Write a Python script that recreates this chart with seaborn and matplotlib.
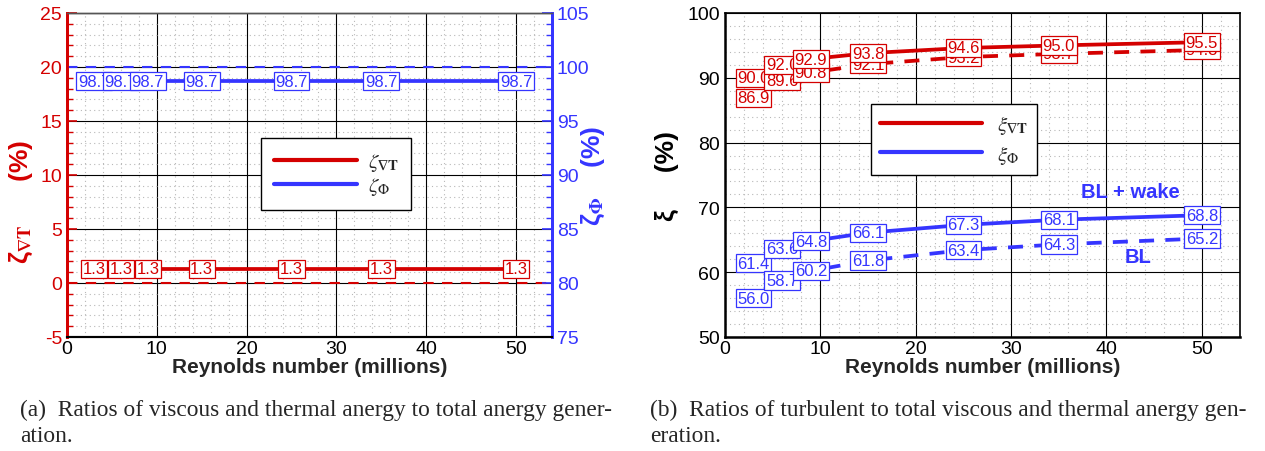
import numpy as np
import pandas as pd
import matplotlib
matplotlib.use("Agg")
import matplotlib.pyplot as plt
from matplotlib.ticker import MultipleLocator
import seaborn as sns

# ---------------- data ----------------
reynolds = [3, 6, 9, 15, 25, 35, 50]
zeta_gradT = [1.3, 1.3, 1.3, 1.3, 1.3, 1.3, 1.3]
zeta_phi = [98.7, 98.7, 98.7, 98.7, 98.7, 98.7, 98.7]
xi_gradT_wake = [90.0, 92.0, 92.9, 93.8, 94.6, 95.0, 95.5]
xi_gradT_bl = [86.9, 89.6, 90.8, 92.1, 93.2, 93.7, 94.3]
xi_phi_wake = [61.4, 63.6, 64.8, 66.1, 67.3, 68.1, 68.8]
xi_phi_bl = [56.0, 58.7, 60.2, 61.8, 63.4, 64.3, 65.2]
ref_left = 0.0
ref_right = 100.0

caption_a = ["(a)  Ratios of viscous and thermal anergy to total anergy gener-", "ation."]
caption_b = ["(b)  Ratios of turbulent to total viscous and thermal anergy gen-", "eration."]

RED = "#d40000"
BLUE = "#3535ff"

sns.set_style("white")
plt.rcParams["font.family"] = ["Liberation Sans", "DejaVu Sans"]
plt.rcParams["mathtext.fontset"] = "stix"
plt.rcParams["axes.unicode_minus"] = False

W, H = 1265, 452
fig = plt.figure(figsize=(W / 100, H / 100), dpi=100)


def fbox(x0, y0, x1, y1):
    return [x0 / W, 1 - y1 / H, (x1 - x0) / W, (y1 - y0) / H]


def style_grid(ax, xminor, yminor):
    ax.xaxis.set_minor_locator(MultipleLocator(xminor))
    ax.yaxis.set_minor_locator(MultipleLocator(yminor))
    ax.grid(which="major", color="black", lw=0.8)
    ax.grid(which="minor", color="#b8b8b8", ls=(0, (1, 3)), lw=0.8)
    ax.set_axisbelow(True)


def label_points(ax, xs, ys, color, zbase, fs=12):
    for i, (x, y) in enumerate(zip(xs, ys)):
        ax.text(x, y, f"{y:.1f}", color=color, fontsize=fs, ha="center", va="center",
                zorder=zbase + 2 * i,
                bbox=dict(boxstyle="square,pad=0.1", fc="white", ec=color, lw=0.9))


# ---------------- left panel ----------------
ax1 = fig.add_axes(fbox(67, 14, 552, 338))
ax1.set_xlim(0, 54)
ax1.set_ylim(-5, 25)
ax1.xaxis.set_major_locator(MultipleLocator(10))
ax1.yaxis.set_major_locator(MultipleLocator(5))
style_grid(ax1, 2, 1)
ax1.axhline(ref_left, color=RED, lw=1.5, ls=(0, (5, 4)), zorder=2)
sns.lineplot(x=reynolds, y=zeta_gradT, ax=ax1, color=RED, lw=2.7, zorder=3)
label_points(ax1, reynolds, zeta_gradT, RED, 10)

ax2 = ax1.twinx()
ax2.set_ylim(75, 105)
ax2.yaxis.set_major_locator(MultipleLocator(5))
ax2.yaxis.set_minor_locator(MultipleLocator(1))
ax2.axhline(ref_right, color=BLUE, lw=1.5, ls=(0, (5, 4)), zorder=2)
sns.lineplot(x=reynolds, y=zeta_phi, ax=ax2, color=BLUE, lw=2.7, zorder=3)
label_points(ax2, reynolds, zeta_phi, BLUE, 10)

ax1.tick_params(axis="y", which="both", direction="in", colors=RED, labelsize=14, right=False)
ax1.tick_params(axis="y", which="major", length=7, width=1.2)
ax1.tick_params(axis="y", which="minor", length=4, width=1.0)
ax1.tick_params(axis="x", which="both", direction="in", colors="black", labelsize=14, top=False, pad=2)
ax1.tick_params(axis="x", which="major", length=7)
ax1.tick_params(axis="x", which="minor", length=4)
ax2.tick_params(axis="y", which="both", direction="in", colors=BLUE, labelsize=14)
ax2.tick_params(axis="y", which="major", length=7, width=1.2)
ax2.tick_params(axis="y", which="minor", length=4, width=1.0)
for ax in (ax1, ax2):
    ax.spines["left"].set_color(RED)
    ax.spines["left"].set_linewidth(2)
    ax.spines["right"].set_color(BLUE)
    ax.spines["right"].set_linewidth(2)
    ax.spines["bottom"].set_color("black")
    ax.spines["bottom"].set_linewidth(1.5)
    ax.spines["top"].set_color("#555555")
    ax.spines["top"].set_linewidth(1)

ax1.set_xlabel("Reynolds number (millions)", fontsize=15, fontweight="bold", labelpad=0)
ax1.set_ylabel(r"ζ$_{\mathbf{\nabla T}}$      (%)", color=RED, fontsize=19, fontweight="bold",
               va="center")
ax1.yaxis.set_label_coords(-0.093, 0.42)
ax2.set_ylabel(r"ζ$_{\mathbf{\Phi}}$    (%)", color=BLUE, fontsize=19, fontweight="bold",
               va="center")
ax2.yaxis.set_label_coords(1.085, 0.5)

h1 = plt.Line2D([], [], color=RED, lw=3)
h2 = plt.Line2D([], [], color=BLUE, lw=3)
leg = ax2.legend([h1, h2], [r"$\zeta_{\mathbf{\nabla T}}$", r"$\zeta_{\Phi}$"], loc="upper left",
                 bbox_to_anchor=(261 / W, 1 - 139 / H), bbox_transform=fig.transFigure,
                 fontsize=15, frameon=True, fancybox=False, edgecolor="black", framealpha=1,
                 handlelength=4.0, handletextpad=0.5, labelspacing=0.1, borderpad=0.62,
                 borderaxespad=0)
leg.get_frame().set_linewidth(1)
leg.set_zorder(50)

# ---------------- right panel ----------------
ax3 = fig.add_axes(fbox(725, 14, 1240, 338))
ax3.set_xlim(0, 54)
ax3.set_ylim(50, 100)
ax3.xaxis.set_major_locator(MultipleLocator(10))
ax3.yaxis.set_major_locator(MultipleLocator(10))
style_grid(ax3, 2, 2)

sns.lineplot(x=reynolds, y=xi_gradT_wake, ax=ax3, color=RED, lw=2.7, zorder=3)
sns.lineplot(x=reynolds, y=xi_gradT_bl, ax=ax3, color=RED, lw=2.7, linestyle=(0, (4, 3)), zorder=3)
sns.lineplot(x=reynolds, y=xi_phi_wake, ax=ax3, color=BLUE, lw=2.7, zorder=3)
sns.lineplot(x=reynolds, y=xi_phi_bl, ax=ax3, color=BLUE, lw=2.7, linestyle=(0, (4, 3)), zorder=3)
label_points(ax3, reynolds, xi_gradT_bl, RED, 10)
label_points(ax3, reynolds, xi_gradT_wake, RED, 11)
label_points(ax3, reynolds, xi_phi_bl, BLUE, 10)
label_points(ax3, reynolds, xi_phi_wake, BLUE, 11)

ax3.text(42.5, 72.5, "BL + wake", color=BLUE, fontsize=14.5, fontweight="bold", ha="center", va="center")
ax3.text(43.3, 62.4, "BL", color=BLUE, fontsize=14.5, fontweight="bold", ha="center", va="center")

ax3.tick_params(axis="both", which="both", direction="in", colors="black", labelsize=14,
                top=False, right=False)
ax3.tick_params(axis="x", which="both", pad=2)
ax3.tick_params(axis="both", which="major", length=7, width=1.2)
ax3.tick_params(axis="both", which="minor", length=4, width=1.0)
for s in ("left", "bottom"):
    ax3.spines[s].set_linewidth(1.8)
    ax3.spines[s].set_color("black")
for s in ("top", "right"):
    ax3.spines[s].set_linewidth(1.2)
    ax3.spines[s].set_color("black")
ax3.set_xlabel("Reynolds number (millions)", fontsize=15, fontweight="bold", labelpad=0)
ax3.set_ylabel(r"ξ     (%)", color="black", fontsize=19, fontweight="bold", va="center")
ax3.yaxis.set_label_coords(-0.113, 0.5)

leg3 = ax3.legend([plt.Line2D([], [], color=RED, lw=3), plt.Line2D([], [], color=BLUE, lw=3)],
                  [r"$\xi_{\mathbf{\nabla T}}$", r"$\xi_{\Phi}$"], loc="upper left",
                  bbox_to_anchor=(871 / W, 1 - 105 / H), bbox_transform=fig.transFigure,
                  fontsize=15, frameon=True, fancybox=False, edgecolor="black", framealpha=1,
                  handlelength=4.9, handletextpad=0.7, labelspacing=0.3, borderpad=0.45,
                  borderaxespad=0)
leg3.get_frame().set_linewidth(1)
leg3.set_zorder(50)

# ---------------- captions ----------------
for i, line in enumerate(caption_a):
    fig.text(20 / W, 1 - (410 + 27 * i) / H, line, fontsize=16.8, family="Liberation Serif",
             ha="left", va="center")
for i, line in enumerate(caption_b):
    fig.text(650 / W, 1 - (410 + 27 * i) / H, line, fontsize=16.8, family="Liberation Serif",
             ha="left", va="center")

fig.savefig("out.png", dpi=100)
